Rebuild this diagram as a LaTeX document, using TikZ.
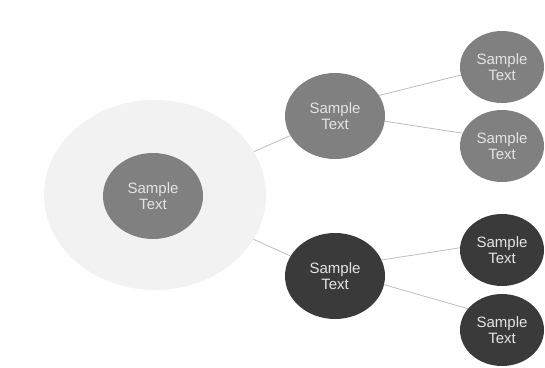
\documentclass[tikz,border=0pt]{standalone}
\usepackage{fontspec}
\setmainfont{Liberation Sans}
\usetikzlibrary{shapes.geometric}
\definecolor{midgray}{HTML}{808080}
\definecolor{darkgray2}{HTML}{3A3A3A}
\definecolor{palegray}{HTML}{F2F2F2}
\definecolor{linegray}{HTML}{BEBEBE}
\definecolor{txtgray}{HTML}{E4E4E4}
\tikzset{
  bubble/.style={ellipse, inner sep=0pt, text=txtgray, align=center,
    font=\fontsize{15}{16}\selectfont},
  bigbubble/.style={bubble, minimum width=100pt, minimum height=86pt},
  smallbubble/.style={bubble, minimum width=84pt, minimum height=72pt},
  halo/.style={ellipse, fill=palegray, minimum width=222pt, minimum height=190pt, inner sep=0pt},
  link/.style={draw=linegray, line width=0.8pt}
}
\begin{document}
\begin{tikzpicture}[x=1pt,y=-1pt]
\useasboundingbox (0,0) rectangle (545,367);
\fill[white] (0,0) rectangle (545,367);
\node[halo] (halo) at (155,195) {};
\node[bigbubble, fill=midgray] (c) at (153,196) {Sample\\Text};
\node[bigbubble, fill=midgray] (um) at (335,116) {Sample\\Text};
\node[bigbubble, fill=darkgray2] (lm) at (335,276) {Sample\\Text};
\node[smallbubble, fill=midgray] (r1) at (502,67) {Sample\\Text};
\node[smallbubble, fill=midgray] (r2) at (502,146) {Sample\\Text};
\node[smallbubble, fill=darkgray2] (r3) at (502,250) {Sample\\Text};
\node[smallbubble, fill=darkgray2] (r4) at (502,330) {Sample\\Text};
\draw[link] (halo) -- (um);
\draw[link] (halo) -- (lm);
\draw[link] (um.25) -- (r1.191);
\draw[link] (um.-6) -- (r2.162);
\draw[link] (lm.19) -- (r3.177);
\draw[link] (lm.-10) -- (r4.148);
\end{tikzpicture}
\end{document}
